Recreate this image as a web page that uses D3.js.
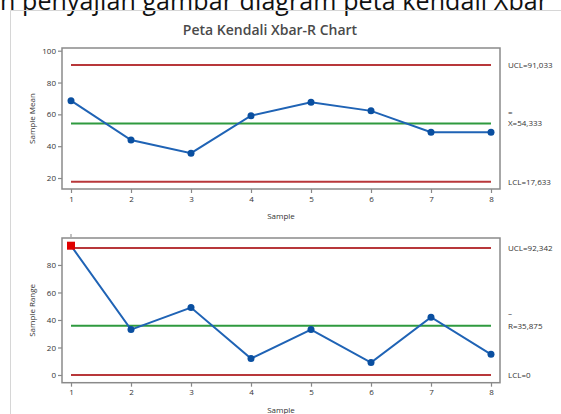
<!DOCTYPE html>
<html><head><meta charset="utf-8">
<script src="https://cdn.jsdelivr.net/npm/d3@7"></script>
<style>body{margin:0;background:#fff}svg{display:block}text{font-family:"Open Sans","Noto Sans",sans-serif}</style>
</head><body>
<script>
const samples = [1,2,3,4,5,6,7,8];
const meanValues = [68.6, 43.9, 35.6, 59.2, 67.6, 62.2, 48.8, 48.8];
const rangeValues = [94, 33, 49, 12, 33, 9, 42, 15];
const meanLimits = {ucl: 91.033, cl: 54.333, lcl: 17.633};
const rangeLimits = {ucl: 92.342, cl: 35.875, lcl: 0};
const meanTicks = [20,40,60,80,100];
const rangeTicks = [0,20,40,60,80];
const meanLabels = ["UCL=91,033", "X=54,333", "LCL=17,633"];
const rangeLabels = ["UCL=92,342", "R=35,875", "LCL=0"];
const outOfControl = [0]; // index of out-of-control point in range chart

const W = 561, H = 414;
const svg = d3.select("body").append("svg").attr("width", W).attr("height", H);

// cut-off caption text at top (cut off in the reference as well)
svg.append("text").attr("x", 0).attr("y", 10).attr("font-size", 25).attr("fill", "#111")
  .attr("textLength", 548).attr("lengthAdjust", "spacing")
  .text("n penyajian gambar diagram peta kendali Xbar");
// outer frame
svg.append("path").attr("d", "M10.5,414 V10.5 H561").attr("fill", "none").attr("stroke", "#d6d6d6").attr("stroke-width", 1);

svg.append("text").attr("x", 270).attr("y", 35).attr("text-anchor", "middle")
  .attr("font-size", 14).attr("font-weight", 600).attr("fill", "#4a4a4a").text("Peta Kendali Xbar-R Chart");

const x = d3.scaleLinear().domain([0.85, 8.15]).range([62, 500]);

function panel(top, bottom, ydom, values, limits, ticks, labels, ylabel, ooc, barKind) {
  const y = d3.scaleLinear().domain(ydom).range([bottom, top]);
  const g = svg.append("g");
  const ya = g.append("g").attr("transform", `translate(${x.range()[0]},0)`)
    .call(d3.axisLeft(y).tickValues(ticks).tickSize(4).tickPadding(2));
  const xa = g.append("g").attr("transform", `translate(0,${bottom})`)
    .call(d3.axisBottom(x).tickValues(samples).tickSize(4).tickPadding(3).tickFormat(d3.format("d")));
  [ya, xa].forEach(a => {
    a.select(".domain").remove();
    a.selectAll("line").attr("stroke", "#888").attr("stroke-width", 1.2);
    a.selectAll("text").attr("font-size", 8).attr("fill", "#333").attr("font-family", '"Open Sans",sans-serif');
  });
  g.append("rect").attr("x", x.range()[0]).attr("y", top).attr("width", x.range()[1]-x.range()[0])
    .attr("height", bottom-top).attr("fill", "none").attr("stroke", "#8a8a8a").attr("stroke-width", 1.5);
  const lines = [["ucl", "#b8373a"], ["cl", "#2f9a3f"], ["lcl", "#b8373a"]];
  lines.forEach(([k, c]) => {
    g.append("line").attr("x1", x(1)).attr("x2", x(8)).attr("y1", y(limits[k])).attr("y2", y(limits[k]))
      .attr("stroke", c).attr("stroke-width", 2);
  });
  g.append("path").datum(values).attr("fill", "none").attr("stroke", "#1f63b5").attr("stroke-width", 2)
    .attr("d", d3.line().x((d,i) => x(samples[i])).y(d => y(d)));
  values.forEach((v, i) => {
    if (ooc.includes(i)) {
      g.append("rect").attr("x", x(samples[i])-4).attr("y", y(v)-4).attr("width", 8).attr("height", 8).attr("fill", "#e00000");
      g.append("line").attr("x1", x(samples[i])).attr("x2", x(samples[i])).attr("y1", top-4).attr("y2", top-1)
        .attr("stroke", "#999").attr("stroke-width", 1.2);
    } else {
      g.append("circle").attr("cx", x(samples[i])).attr("cy", y(v)).attr("r", 3.5).attr("fill", "#0a4fa0");
    }
  });
  const keys = ["ucl", "cl", "lcl"];
  keys.forEach((k, i) => {
    g.append("text").attr("x", 508).attr("y", y(limits[k]) + 3).attr("font-size", 8).attr("fill", "#333").text(labels[i]);
  });
  g.append("text").attr("x", 508).attr("y", y(limits.cl) - (barKind === "=" ? 8 : 10)).attr("font-size", 8).attr("fill", "#333").text(barKind);
  g.append("text").attr("transform", `translate(35,${(top+bottom)/2}) rotate(-90)`).attr("text-anchor", "middle")
    .attr("font-size", 8).attr("fill", "#333").text(ylabel);
  g.append("text").attr("x", (x.range()[0]+x.range()[1])/2).attr("y", bottom + 30).attr("text-anchor", "middle")
    .attr("font-size", 8).attr("fill", "#333").text("Sample");
}

panel(48, 189, [13.1, 101.7], meanValues, meanLimits, meanTicks, meanLabels, "Sample Mean", [], "=");
panel(238, 382.7, [-5.6, 99.6], rangeValues, rangeLimits, rangeTicks, rangeLabels, "Sample Range", outOfControl, "–");
</script>
</body></html>
